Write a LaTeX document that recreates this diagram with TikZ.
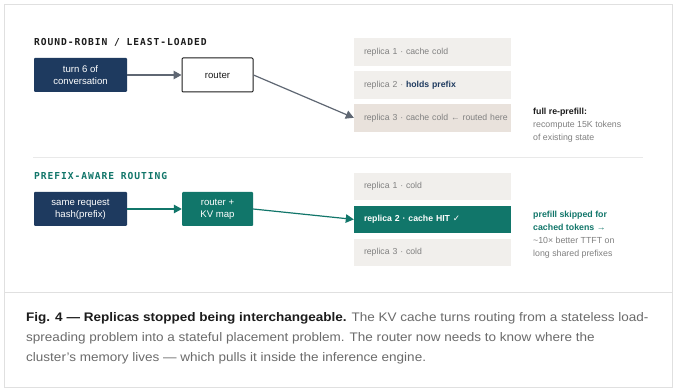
\documentclass[tikz,border=0pt]{standalone}
\usepackage{fontspec}
\setmainfont{Liberation Sans}
\newfontfamily\capfont[FakeStretch=1.09]{Liberation Sans}
\newfontfamily\headfont[LetterSpace=10]{DejaVu Sans Mono}
\newfontfamily\symfont{DejaVu Sans}
\usetikzlibrary{arrows.meta,positioning}
\definecolor{navy}{RGB}{30,58,95}
\definecolor{kvteal}{RGB}{17,118,106}
\definecolor{repfill}{RGB}{241,239,236}
\definecolor{repwarm}{RGB}{233,226,220}
\definecolor{mutedtext}{RGB}{128,128,128}
\definecolor{inktext}{RGB}{28,28,28}
\definecolor{wire}{RGB}{95,103,115}
\definecolor{frameline}{RGB}{224,224,224}
\tikzset{
  panel/.style={
    draw=frameline,
    line width=0.9pt
  },
  divider/.style={
    draw=frameline!70,
    line width=0.8pt
  },
  heading/.style={
    anchor=west,
    inner sep=0pt,
    text=inktext,
    font=\headfont\bfseries\fontsize{9.6}{12}\selectfont
  },
  source/.style={
    rectangle,
    rounded corners=1pt,
    fill=navy,
    text=white,
    align=center,
    minimum width=93pt,
    minimum height=34pt,
    inner sep=0pt,
    font=\fontsize{9.6}{12}\selectfont
  },
  router/.style={
    source,
    fill=white,
    draw=inktext,
    line width=1pt,
    text=inktext,
    minimum width=71pt
  },
  replica/.style={
    rectangle,
    fill=repfill,
    text=mutedtext,
    align=left,
    text width=137pt,
    inner xsep=10pt,
    inner ysep=0pt,
    minimum height=27.5pt,
    font=\fontsize{8.7}{10}\selectfont
  },
  hit/.style={
    replica,
    fill=kvteal,
    text=white,
    font=\bfseries\fontsize{8.7}{10}\selectfont
  },
  note/.style={
    anchor=north west,
    inner sep=0pt,
    align=left,
    text=mutedtext,
    font=\fontsize{8.8}{13.1}\selectfont
  },
  caption/.style={
    anchor=north west,
    inner sep=0pt,
    align=left,
    text=black!58,
    font=\capfont\fontsize{12.4}{20}\selectfont
  },
  arrow/.style={
    -{Triangle[length=8pt,width=8.5pt]},
    line width=1.4pt,
    draw=wire
  }
}

\begin{document}
\begin{tikzpicture}[x=1pt, y=-1pt, node distance=5pt]
  \useasboundingbox (0,0) rectangle (678,390);
  \draw[panel, fill=white] (4,4) rectangle (672,387);
  \draw[panel] (4,292) -- (672,292);
  \draw[divider] (33,157) -- (643,157);

  % round-robin / least-loaded
  \node[heading] (rrtitle) at (34,42) {ROUND-ROBIN / LEAST-LOADED};
  \node[source] (turn) at (80.5,75) {turn 6 of\\conversation};
  \node[router] (rrrouter) at (217.5,75) {router};
  \node[replica] (rrrep1) at (432.5,52) {replica 1 · cache cold};
  \node[replica, below=of rrrep1] (rrrep2) {replica 2 · {\bfseries\color{navy}holds prefix}};
  \node[replica, fill=repwarm, below=of rrrep2] (rrrep3) {\mbox{replica 3 · cache cold ← routed here}};
  \node[note] (rrnote) at (533,108) {{\bfseries\color{inktext}full re-prefill:}\\recompute 15K tokens\\of existing state};

  \draw[arrow] (turn) -- (rrrouter);
  \draw[arrow, line width=1.2pt] (rrrouter.east) -- (rrrep3.west);

  % prefix-aware routing
  \node[heading, text=kvteal] (patitle) at (34,176) {PREFIX-AWARE ROUTING};
  \node[source] (req) at (80.5,209) {same request\\hash(prefix)};
  \node[source, fill=kvteal, minimum width=71pt] (kvrouter) at (217.5,209) {router +\\KV map};
  \node[replica] (parep1) at (432.5,186.5) {replica 1 · cold};
  \node[hit, below=of parep1] (parep2) {replica 2 · cache HIT {\symfont\mdseries ✓}};
  \node[replica, below=of parep2] (parep3) {replica 3 · cold};
  \node[note] (panote) at (533,210.5) {{\bfseries\color{kvteal}prefill skipped for}\\{\bfseries\color{kvteal}cached tokens →}\\\textasciitilde10× better TTFT on\\long shared prefixes};

  \draw[arrow, draw=kvteal] (req) -- (kvrouter);
  \draw[arrow, draw=kvteal, line width=1.2pt] (kvrouter.east) -- (parep2.west);

  % caption
  \node[caption] (figcap) at (26,312.5) {{\bfseries\color{inktext}Fig. 4 — Replicas stopped being interchangeable.} The KV cache turns routing from a stateless load-\\spreading problem into a stateful placement problem. The router now needs to know where the\\cluster’s memory lives — which pulls it inside the inference engine.};
\end{tikzpicture}
\end{document}
